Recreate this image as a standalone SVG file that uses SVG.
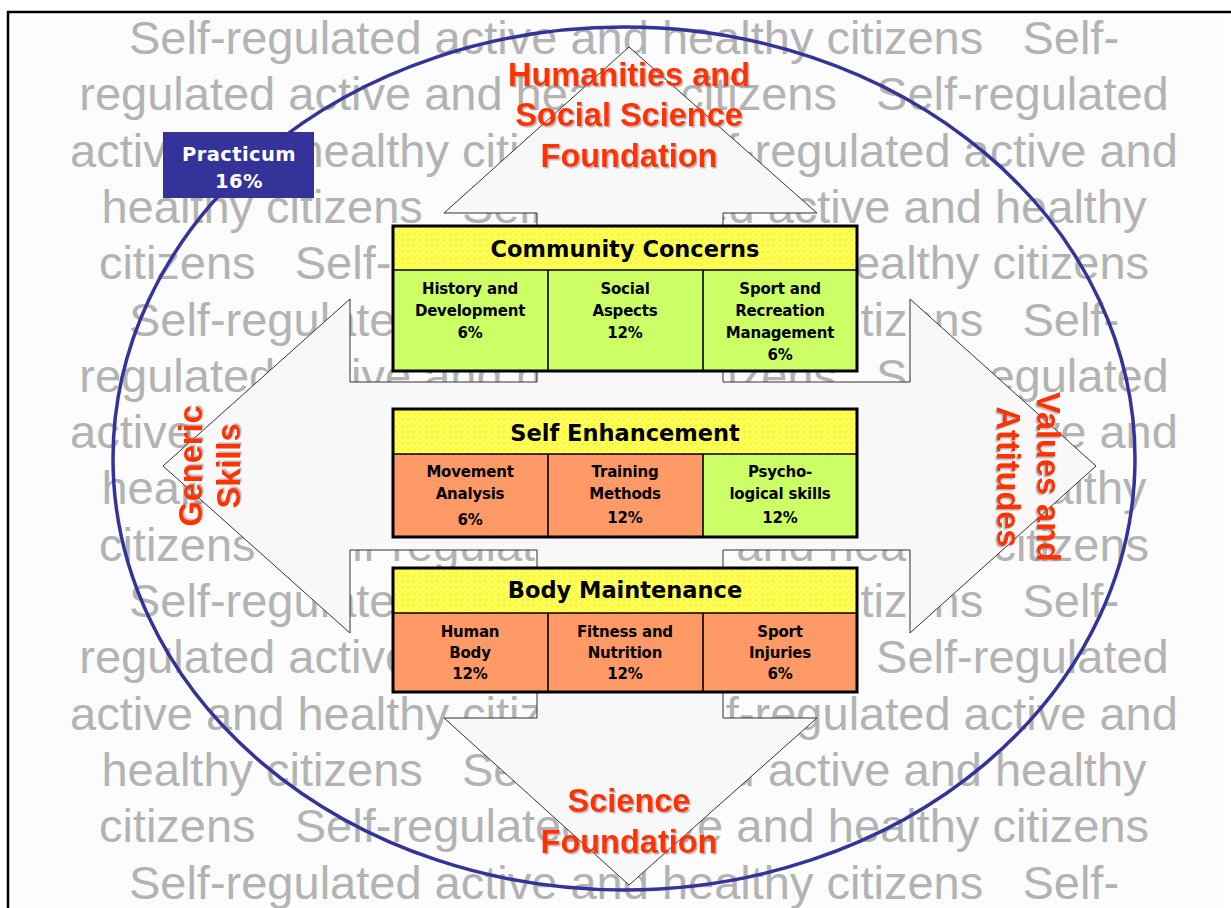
<svg xmlns="http://www.w3.org/2000/svg" width="1231" height="908" viewBox="0 0 1231 908">
<style>
.bg{font-family:"Liberation Sans",Arial,sans-serif;font-size:47px;fill:#b3b3b3;text-anchor:middle;white-space:pre}
.hdr{font-family:"DejaVu Sans",Verdana,sans-serif;font-weight:bold;font-size:22.5px;fill:#000;text-anchor:middle}
.cell{font-family:"DejaVu Sans",Verdana,sans-serif;font-weight:bold;font-size:15px;fill:#000;text-anchor:middle;letter-spacing:-0.2px}
.lbl{font-family:"Liberation Sans",Arial,sans-serif;font-weight:bold;font-size:32.5px;fill:#ff3300;text-anchor:middle;filter:url(#sh)}
.prac{font-family:"DejaVu Sans",Verdana,sans-serif;font-weight:bold;font-size:19.5px;fill:#fff;text-anchor:middle;letter-spacing:0.4px}
.green{fill:#ccff66}
.orange{fill:#ff9966}
.head{fill:url(#bubbles)}
.line{stroke:#000;stroke-width:1.6;fill:none}
.frame{fill:none;stroke:#000;stroke-width:3}
</style>
<defs>
<pattern id="bubbles" width="6" height="6" patternUnits="userSpaceOnUse">
<rect width="6" height="6" fill="#ffff00"/>
<circle cx="3" cy="3" r="2.3" fill="none" stroke="#ffffff" stroke-width="0.7"/>
<circle cx="2.3" cy="2.3" r="0.7" fill="#ffffff"/>
</pattern>
<filter id="sh" x="-10%" y="-10%" width="120%" height="130%">
<feDropShadow dx="1.5" dy="1.5" stdDeviation="0.6" flood-color="#808080" flood-opacity="0.55"/>
</filter>
</defs>
<rect x="8" y="12" width="1217" height="900" fill="#fcfcfc"/>
<path d="M8 908V12H1231" fill="none" stroke="#000" stroke-width="2.5"/>
<g id="background-text">
<text class="bg" x="624" y="54">Self-regulated active and healthy citizens   Self-</text>
<text class="bg" x="624" y="110.3">regulated active and healthy citizens   Self-regulated</text>
<text class="bg" x="624" y="166.6">active and healthy citizens   Self-regulated active and</text>
<text class="bg" x="624" y="222.9">healthy citizens   Self-regulated active and healthy</text>
<text class="bg" x="624" y="279.2">citizens   Self-regulated active and healthy citizens</text>
<text class="bg" x="624" y="335.5">Self-regulated active and healthy citizens   Self-</text>
<text class="bg" x="624" y="391.8">regulated active and healthy citizens   Self-regulated</text>
<text class="bg" x="624" y="448.1">active and healthy citizens   Self-regulated active and</text>
<text class="bg" x="624" y="504.4">healthy citizens   Self-regulated active and healthy</text>
<text class="bg" x="624" y="560.7">citizens   Self-regulated active and healthy citizens</text>
<text class="bg" x="624" y="617">Self-regulated active and healthy citizens   Self-</text>
<text class="bg" x="624" y="673.3">regulated active and healthy citizens   Self-regulated</text>
<text class="bg" x="624" y="729.6">active and healthy citizens   Self-regulated active and</text>
<text class="bg" x="624" y="785.9">healthy citizens   Self-regulated active and healthy</text>
<text class="bg" x="624" y="842.2">citizens   Self-regulated active and healthy citizens</text>
<text class="bg" x="624" y="898.5">Self-regulated active and healthy citizens   Self-</text>
</g>
<g id="connectors">
<path id="cross-arrows" d="M629 47L817 213H723V382H910V299L1096 466L910 633V550H723V718H817L629 885L444 718H537V550H350V633L163 466L350 299V382H537V213H444Z" fill="#f8f8f8" stroke="#333" stroke-width="1"/>
</g>
<g id="circle">
<ellipse cx="624" cy="458.5" rx="511" ry="431.5" fill="none" stroke="#333399" stroke-width="3.5"/>
</g>
<g id="practicum">
<rect x="163" y="132" width="151" height="66" fill="#333399"/>
<text class="prac" x="239" y="161">Practicum</text>
<text class="prac" x="239" y="188" font-size="19">16%</text>
</g>
<g id="community-concerns">
<rect class="head" x="393" y="226" width="464" height="44"/>
<rect class="green" x="393" y="270" width="464" height="101"/>
<path class="line" d="M393 270H857M548 270V371M703 270V371"/>
<rect class="frame" x="393" y="226" width="464" height="145"/>
<text class="hdr" x="625" y="257">Community Concerns</text>
<text class="cell" x="470" y="294">History and</text>
<text class="cell" x="470" y="316">Development</text>
<text class="cell" x="470" y="338">6%</text>
<text class="cell" x="625" y="294">Social</text>
<text class="cell" x="625" y="316">Aspects</text>
<text class="cell" x="625" y="338">12%</text>
<text class="cell" x="780" y="294">Sport and</text>
<text class="cell" x="780" y="316">Recreation</text>
<text class="cell" x="780" y="338">Management</text>
<text class="cell" x="780" y="360">6%</text>
</g>
<g id="self-enhancement">
<rect class="head" x="393" y="409" width="464" height="45"/>
<rect class="orange" x="393" y="454" width="310" height="83"/>
<rect class="green" x="703" y="454" width="154" height="83"/>
<path class="line" d="M393 454H857M548 454V537M703 454V537"/>
<rect class="frame" x="393" y="409" width="464" height="128"/>
<text class="hdr" x="625" y="441">Self Enhancement</text>
<text class="cell" x="470" y="477">Movement</text>
<text class="cell" x="470" y="499">Analysis</text>
<text class="cell" x="470" y="525">6%</text>
<text class="cell" x="625" y="477">Training</text>
<text class="cell" x="625" y="499">Methods</text>
<text class="cell" x="625" y="523">12%</text>
<text class="cell" x="780" y="477">Psycho-</text>
<text class="cell" x="780" y="499">logical skills</text>
<text class="cell" x="780" y="523">12%</text>
</g>
<g id="body-maintenance">
<rect class="head" x="393" y="568" width="464" height="45"/>
<rect class="orange" x="393" y="613" width="464" height="79"/>
<path class="line" d="M393 613H857M548 613V692M703 613V692"/>
<rect class="frame" x="393" y="568" width="464" height="124"/>
<text class="hdr" x="625" y="598">Body Maintenance</text>
<text class="cell" x="470" y="637">Human</text>
<text class="cell" x="470" y="658">Body</text>
<text class="cell" x="470" y="679">12%</text>
<text class="cell" x="625" y="637">Fitness and</text>
<text class="cell" x="625" y="658">Nutrition</text>
<text class="cell" x="625" y="679">12%</text>
<text class="cell" x="780" y="637">Sport</text>
<text class="cell" x="780" y="658">Injuries</text>
<text class="cell" x="780" y="679">6%</text>
</g>
<g id="label-humanities">
<text class="lbl" x="629" y="86">Humanities and</text>
<text class="lbl" x="629" y="126">Social Science</text>
<text class="lbl" x="629" y="167">Foundation</text>
</g>
<g id="label-science">
<text class="lbl" x="629" y="812">Science</text>
<text class="lbl" x="629" y="853">Foundation</text>
</g>
<g id="label-generic">
<text class="lbl" transform="translate(202 466) rotate(-90)">Generic</text>
<text class="lbl" transform="translate(240 466) rotate(-90)">Skills</text>
</g>
<g id="label-values">
<text class="lbl" transform="translate(1037 477) rotate(90)">Values and</text>
<text class="lbl" transform="translate(997 477) rotate(90)">Attitudes</text>
</g>
</svg>
